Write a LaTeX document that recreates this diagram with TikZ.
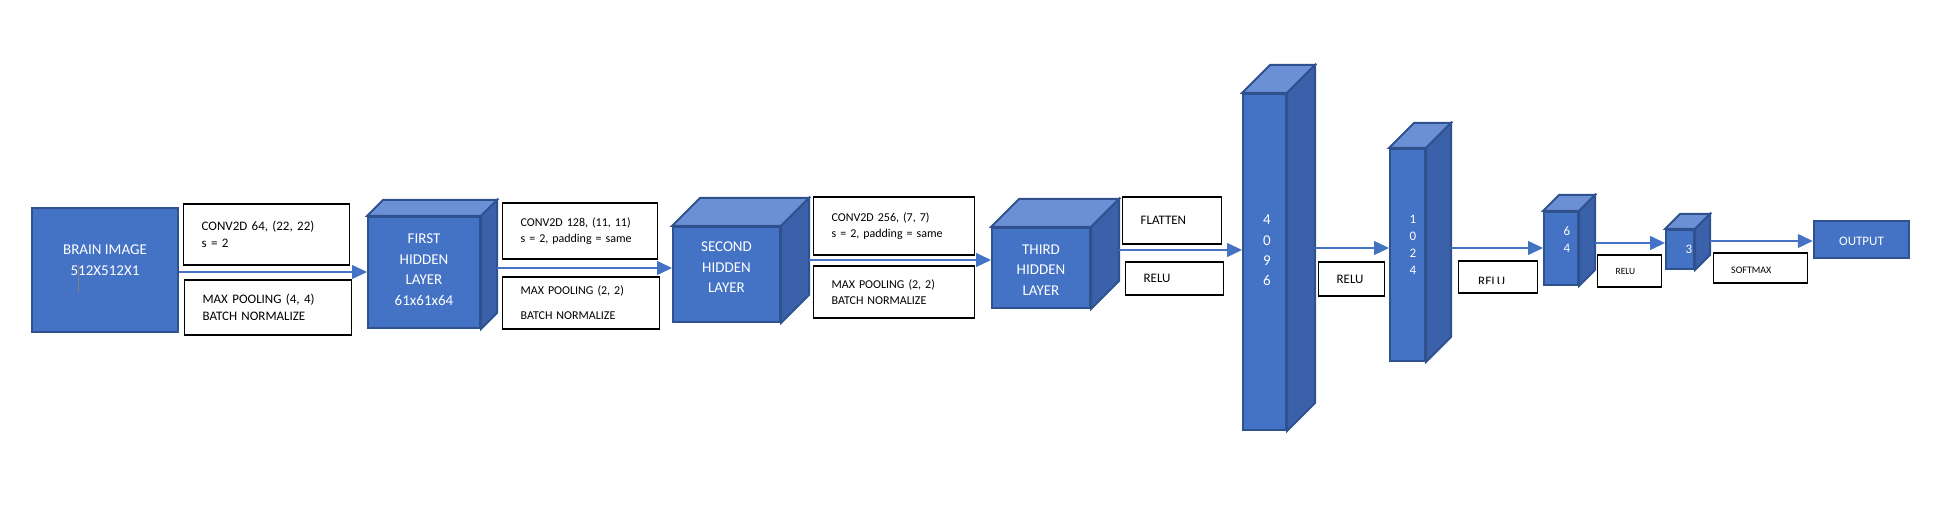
\documentclass[tikz,border=0pt]{standalone}
\usepackage{fontspec}
\setmainfont{Carlito}
\usetikzlibrary{arrows.meta,positioning}
\definecolor{layerblue}{HTML}{4472C4}
\definecolor{layerline}{HTML}{2F528F}
\definecolor{layertop}{HTML}{6C90D6}
\definecolor{layerside}{HTML}{3A61A9}
\tikzset{
  layer/.style={draw=layerline,fill=layerblue,line width=2pt,inner sep=0pt},
  lbl/.style={text=white,align=center,font=\fontsize{15}{20.5}\selectfont},
  digits/.style={text=white,align=center,font=\fontsize{13}{17}\selectfont},
  opbox/.style={draw,line width=1.2pt,fill=white,inner xsep=18pt,inner ysep=0pt,align=left,anchor=west,font=\fontsize{13}{17}\selectfont},
  smallop/.style={opbox,font=\fontsize{12}{16}\selectfont},
  flow/.style={->,draw=layerblue,line width=1.4pt}
}

\begin{document}
\begin{tikzpicture}[x=1pt,y=1pt,>={Triangle[length=15pt,width=14pt]}]
	\useasboundingbox (0,0) rectangle (1955,506);
	% input and hidden layers
	\node[layer,line width=2.5pt,minimum width=146pt,minimum height=124pt,label={[lbl,yshift=10pt]center:BRAIN IMAGE\\512X512X1}] (brain) at (105,236) {};
	\node[layer,minimum width=112pt,minimum height=111pt,label={[lbl,yshift=3pt]center:FIRST\\HIDDEN\\LAYER\\61x61x64}] (first) at (424,233.5) {};
	\node[layer,minimum width=107pt,minimum height=95pt,label={[lbl,yshift=7pt]center:SECOND\\HIDDEN\\LAYER}] (second) at (726.5,231.5) {};
	\node[layer,minimum width=98pt,minimum height=80pt,label={[lbl,yshift=-2pt]center:THIRD\\HIDDEN\\LAYER}] (third) at (1041,238) {};
	% dense layers
	\node[layer,minimum width=43pt,minimum height=336pt,label={[digits,font=\fontsize{15}{20.3}\selectfont,xshift=2.5pt,yshift=11.5pt]center:4\\0\\9\\6}] (n4096) at (1264.5,244) {};
	\node[layer,minimum width=35pt,minimum height=212pt,label={[digits,xshift=5.5pt,yshift=10pt]center:1\\0\\2\\4}] (n1024) at (1407.5,251) {};
	\node[layer,minimum width=34pt,minimum height=73pt,label={[digits,xshift=6pt,yshift=9pt]center:6\\4}] (n64) at (1561,257.5) {};
	\node[layer,minimum width=28pt,minimum height=39pt,label={[digits,xshift=9pt]center:3}] (n3) at (1680,256.5) {};
	\node[layer,line width=2.5pt,minimum width=95pt,minimum height=37pt,label={[lbl,font=\fontsize{13}{17}\selectfont,yshift=-1.5pt]center:OUTPUT}] (output) at (1861.5,266.5) {};
	\foreach \n/\d in {first/16,second/28,third/28,n4096/28,n1024/25,n64/16,n3/15}{
		\filldraw[layer,fill=layertop] (\n.north west) -- ++(\d,\d) -- ([shift={(\d,\d)}]\n.north east) -- (\n.north east) -- cycle;
		\filldraw[layer,fill=layerside] (\n.north east) -- ([shift={(\d,\d)}]\n.north east) -- ([shift={(\d,\d)}]\n.south east) -- (\n.south east) -- cycle;
	}
	\draw[gray,line width=0.8pt] (78,241) -- (78,213);
	% operation boxes
	\node[opbox,text width=130pt,minimum height=61pt] (conv1) at (183,271.5) {CONV2D 64, (22, 22)\\s = 2};
	\node[opbox,text width=131pt,minimum height=55pt] (pool1) at (184,198.5) {MAX POOLING (4, 4)\\BATCH NORMALIZE};
	\node[smallop,text width=119pt,minimum height=56pt] (conv2) at (502,275) {CONV2D 128, (11, 11)\\s = 2, padding = same};
	\node[smallop,text width=121pt,minimum height=52pt] (pool2) at (502,203) {MAX POOLING (2, 2)\\[9pt]BATCH NORMALIZE};
	\node[smallop,text width=125pt,minimum height=58pt] (conv3) at (813,280) {CONV2D 256, (7, 7)\\s = 2, padding = same};
	\node[smallop,text width=125pt,minimum height=52pt] (pool3) at (813,214) {MAX POOLING (2, 2)\\BATCH NORMALIZE};
	\node[opbox,text width=63pt,minimum height=47pt] (flatten) at (1122,285.5) {FLATTEN\\[-4pt]};
	\node[opbox,text width=62pt,minimum height=33pt] (relu1) at (1125,227.5) {RELU};
	\node[opbox,text width=30pt,minimum height=34pt] (relu2) at (1318,227) {RELU};
	\node[opbox,text width=43pt,minimum height=32pt] (relu3) at (1458,229) {};
	\node[opbox,text width=28pt,minimum height=32pt,font=\fontsize{9.5}{12}\selectfont] (relu4) at (1597,235) {RELU};
	\node[opbox,text width=58pt,minimum height=30pt] (softmax) at (1713,238) {};
	\begin{scope}
		\clip (relu3.north west) rectangle ([yshift=10pt]relu3.south east);
		\node[anchor=base west,inner sep=0pt,font=\fontsize{13}{17}\selectfont] (relu3-t) at ([shift={(20,7.6)}]relu3.south west) {RELU};
	\end{scope}
	\begin{scope}
		\clip (softmax.north west) rectangle ([yshift=11pt]softmax.south east);
		\node[anchor=base west,inner sep=0pt,font=\fontsize{10}{12}\selectfont] (softmax-t) at ([shift={(18,9.6)}]softmax.south west) {SOFTMAX};
	\end{scope}
	% connectors
	\draw[flow] (brain.east |- 0,234) -- (first.west |- 0,234);
	\draw[flow] ([xshift=16pt]first.east |- 0,238) -- (second.west |- 0,238);
	\draw[flow] ([xshift=28pt]second.east |- 0,246) -- (third.west |- 0,246);
	\draw[flow] ([xshift=28pt]third.east |- 0,256) -- (n4096.west |- 0,256);
	\draw[flow] ([xshift=28pt]n4096.east |- 0,258) -- (n1024.west |- 0,258);
	\draw[flow] ([xshift=25pt]n1024.east |- 0,258) -- (n64.west |- 0,258);
	\draw[flow] ([xshift=16pt]n64.east |- 0,263) -- (n3.west |- 0,263);
	\draw[flow] ([xshift=15pt]n3.east |- 0,265) -- (output.west |- 0,265);
\end{tikzpicture}
\end{document}
